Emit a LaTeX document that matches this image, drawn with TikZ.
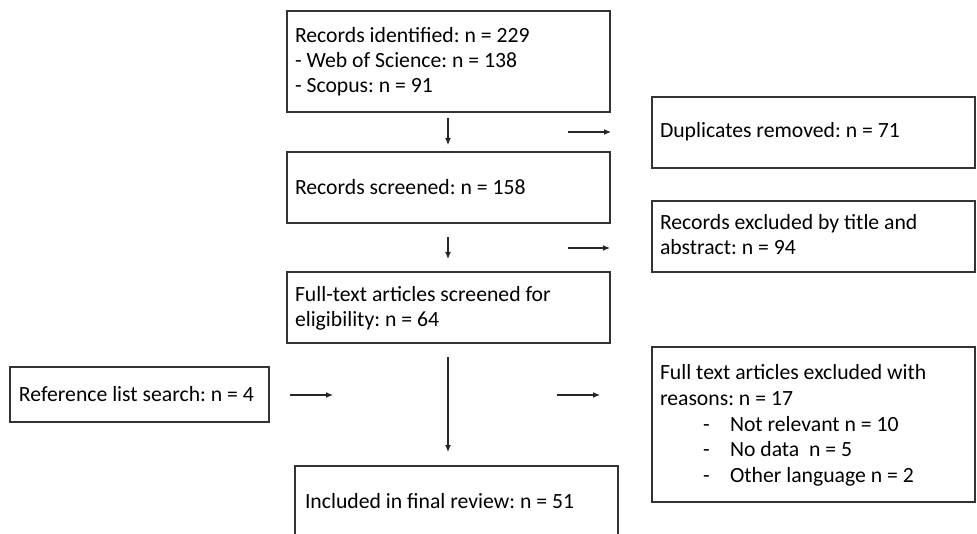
\documentclass[tikz,border=0pt]{standalone}
\usepackage{fontspec}
\setmainfont{Carlito}
\usetikzlibrary{arrows.meta}
\frenchspacing
\tikzset{
  box/.style={draw=black!80, line width=1.2pt, inner sep=0pt, outer sep=0pt},
  txt/.style={anchor=west, inner sep=0pt, outer sep=0pt, text=black,
    font=\fontsize{21.7}{26}\selectfont, text height=14pt, text depth=5pt},
  arr/.style={draw=black!85, line width=1.1pt, -{Latex[length=7pt,width=6pt]}}
}
\begin{document}
\begin{tikzpicture}[x=1pt,y=1pt]
\useasboundingbox (0,0) rectangle (977,-534);
\clip (0,0) rectangle (977,-534);
% boxes
\node[box, minimum width=323pt, minimum height=101pt] (b1) at (448.5,-61.5) {};
\node[box, minimum width=323pt, minimum height=71pt] (b2) at (448.5,-187.5) {};
\node[box, minimum width=323pt, minimum height=71pt] (b3) at (448.5,-307.5) {};
\node[box, minimum width=323pt, minimum height=71pt] (dup) at (813.5,-132.5) {};
\node[box, minimum width=323pt, minimum height=71pt] (excl) at (813.5,-236.5) {};
\node[box, minimum width=259pt, minimum height=55pt] (ref) at (139.5,-394.5) {};
\node[box, minimum width=323pt, minimum height=155pt] (fexcl) at (813.5,-424.5) {};
\node[box, minimum width=323pt, minimum height=94pt] (final) at (456.5,-513) {};
% texts
\node[txt] (t1a) at (295,-38.5) {Records identified: n = 229};
\node[txt] (t1b) at (295,-63.5) {- Web of Science: n = 138};
\node[txt] (t1c) at (295,-88.5) {- Scopus: n = 91};
\node[txt] (t2) at (295,-190.5) {Records screened: n = 158};
\node[txt] (t3a) at (295,-297.5) {Full-text articles screened for};
\node[txt] (t3b) at (295,-322.5) {eligibility: n = 64};
\node[txt] (tdup) at (660,-133.5) {Duplicates removed: n = 71};
\node[txt] (texa) at (660,-225.5) {Records excluded by title and};
\node[txt] (texb) at (660,-250.5) {abstract: n = 94};
\node[txt] (tref) at (19,-397.5) {Reference list search: n = 4};
\node[txt] (tfin) at (305,-503.5) {Included in final review: n = 51};
\node[txt] (tfa) at (660,-375.5) {Full text articles excluded with};
\node[txt] (tfb) at (660,-401) {reasons: n = 17};
\node[txt] (tfc1) at (703,-426.5) {-};
\node[txt] (tfc2) at (730,-426.5) {Not relevant n = 10};
\node[txt] (tfd1) at (703,-452) {-};
\node[txt] (tfd2) at (730,-452) {No data\ \ n = 5};
\node[txt] (tfe1) at (703,-477.5) {-};
\node[txt] (tfe2) at (730,-477.5) {Other language n = 2};
% arrow end points
\coordinate (d1s) at (448,-118); \coordinate (d1e) at (448,-145);
\coordinate (r1s) at (568,-132); \coordinate (r1e) at (611,-132);
\coordinate (d2s) at (448,-237); \coordinate (d2e) at (448,-259);
\coordinate (r2s) at (568,-248); \coordinate (r2e) at (610,-248);
\coordinate (l3s) at (290,-395); \coordinate (l3e) at (333,-395);
\coordinate (d3s) at (448,-357); \coordinate (d3e) at (448,-452);
\coordinate (r3s) at (557,-395); \coordinate (r3e) at (600,-395);
\draw[arr] (d1s) -- (d1e);
\draw[arr] (r1s) -- (r1e);
\draw[arr] (d2s) -- (d2e);
\draw[arr] (r2s) -- (r2e);
\draw[arr] (l3s) -- (l3e);
\draw[arr] (d3s) -- (d3e);
\draw[arr] (r3s) -- (r3e);
\end{tikzpicture}
\end{document}
